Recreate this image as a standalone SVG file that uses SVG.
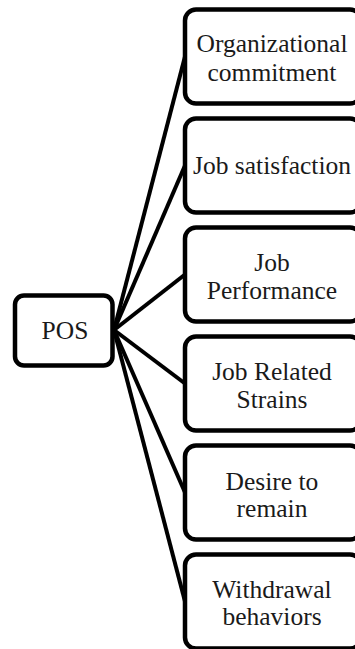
<svg xmlns="http://www.w3.org/2000/svg" width="355" height="649" viewBox="0 0 355 649">
  <style>
    .box { fill: #ffffff; stroke: #000000; stroke-width: 4.5; }
    .link { stroke: #000000; stroke-width: 4; fill: none; }
    .label { font-family: "Liberation Serif", "Times New Roman", serif; font-size: 25.5px; fill: #1a1a1a; text-anchor: middle; }
  </style>
  <rect width="355" height="649" fill="#ffffff"/>

  <!-- connectors from the POS box to each outcome -->
  <g id="connectors">
    <line class="link" x1="114" y1="330" x2="185" y2="56.5"/>
    <line class="link" x1="114" y1="330" x2="185" y2="165.5"/>
    <line class="link" x1="114" y1="330" x2="185" y2="274.5"/>
    <line class="link" x1="114" y1="330" x2="185" y2="383.5"/>
    <line class="link" x1="114" y1="330" x2="185" y2="492.5"/>
    <line class="link" x1="114" y1="330" x2="185" y2="601.5"/>
  </g>

  <g id="pos">
    <rect class="box" x="15" y="295.5" width="97.5" height="70" rx="9"/>
    <text class="label" x="65" y="339">POS</text>
  </g>

  <g id="organizational-commitment">
    <rect class="box" x="185" y="9.5" width="176" height="94" rx="11"/>
    <text class="label" x="272" y="52">Organizational</text>
    <text class="label" x="272" y="80.5">commitment</text>
  </g>

  <g id="job-satisfaction">
    <rect class="box" x="185" y="118.5" width="176" height="94" rx="11"/>
    <text class="label" x="272" y="174">Job satisfaction</text>
  </g>

  <g id="job-performance">
    <rect class="box" x="185" y="227.5" width="176" height="94" rx="11"/>
    <text class="label" x="272" y="271">Job</text>
    <text class="label" x="272" y="298.5">Performance</text>
  </g>

  <g id="job-related-strains">
    <rect class="box" x="185" y="336.5" width="176" height="94" rx="11"/>
    <text class="label" x="272" y="380">Job Related</text>
    <text class="label" x="272" y="407.5">Strains</text>
  </g>

  <g id="desire-to-remain">
    <rect class="box" x="185" y="445.5" width="176" height="94" rx="11"/>
    <text class="label" x="272" y="489.5">Desire to</text>
    <text class="label" x="272" y="516.5">remain</text>
  </g>

  <g id="withdrawal-behaviors">
    <rect class="box" x="185" y="554.5" width="176" height="94" rx="11"/>
    <text class="label" x="272" y="598">Withdrawal</text>
    <text class="label" x="272" y="625">behaviors</text>
  </g>
</svg>
